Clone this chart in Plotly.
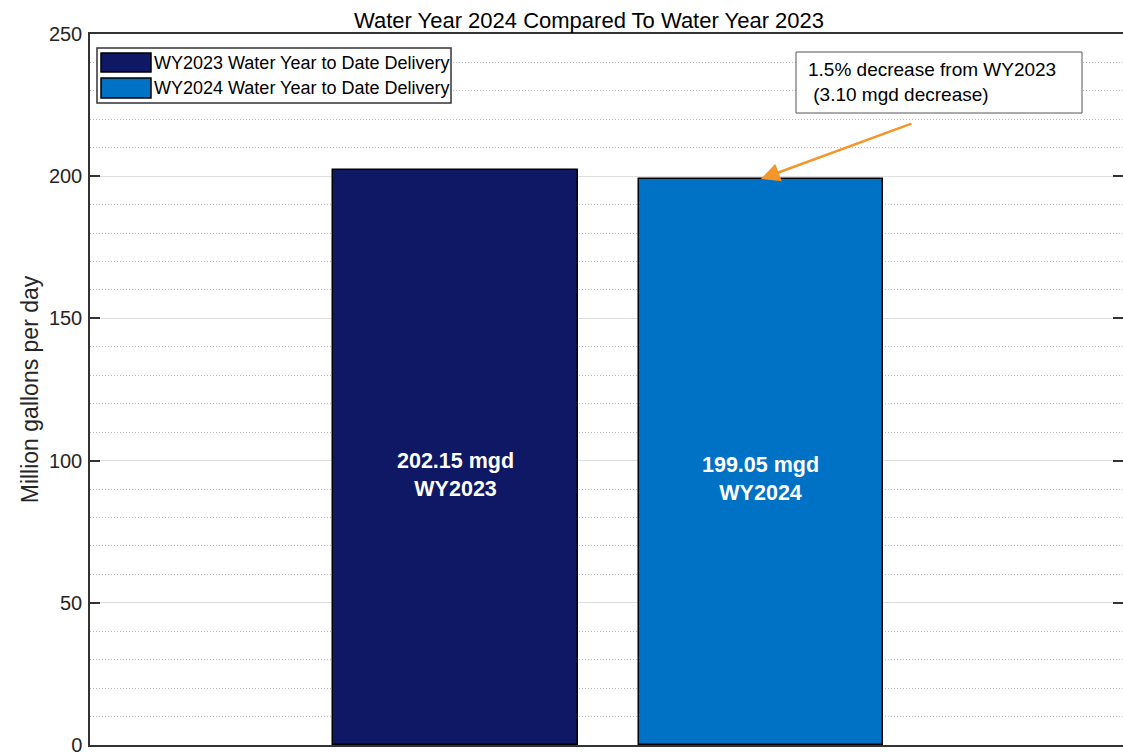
import plotly.graph_objects as go

# ---- data ----
categories = ["WY2023", "WY2024"]
legend_names = ["WY2023 Water Year to Date Delivery", "WY2024 Water Year to Date Delivery"]
values = [202.15, 199.05]
x_pos = [1, 2]
y_ticks = [0, 50, 100, 150, 200, 250]
title_text = "Water Year 2024 Compared To Water Year 2023"
y_title = "Million gallons per day"

colors = ["#0E1864", "#0072C6"]
FONT = "Liberation Sans, Arial, Helvetica, sans-serif"

W, H = 1123, 756
L, R, T, B = 90, 0, 34, 11
PW, PH = W - L - R, H - T - B


def px(xp):
    return (xp - L) / PW


def py(yp):
    return (H - B - yp) / PH


fig = go.Figure()
fig.add_trace(go.Bar(
    x=x_pos, y=values, width=0.8,
    marker=dict(color=colors, line=dict(color="black", width=1.5)),
    showlegend=False, hoverinfo="x+y",
))

annotations = []
shapes = []

# bar value labels
for xv, v, c in zip(x_pos, values, categories):
    annotations.append(dict(
        x=xv, y=v / 2, xref="x", yref="y", text=f"<b>{v:.2f} mgd<br>{c}</b>",
        showarrow=False, font=dict(family=FONT, size=21.5, color="white"),
        yshift=-17, xanchor="center", yanchor="middle",
    ))

# manual legend
shapes.append(dict(type="rect", xref="paper", yref="paper",
                   x0=px(97), x1=px(451), y0=py(103), y1=py(48),
                   fillcolor="white", line=dict(color="#333333", width=1.5), layer="above"))
sw_y = [(53, 72), (78, 98)]
txt_y = [63, 88]
for (y0, y1), ty, c, name in zip(sw_y, txt_y, colors, legend_names):
    shapes.append(dict(type="rect", xref="paper", yref="paper",
                       x0=px(101), x1=px(151), y0=py(y1), y1=py(y0),
                       fillcolor=c, line=dict(color="black", width=1.5), layer="above"))
    annotations.append(dict(x=px(152), y=py(ty), xref="paper", yref="paper", text=name,
                            showarrow=False, xanchor="left", yanchor="middle",
                            font=dict(family=FONT, size=18, color="black")))

# difference textbox
diff = values[0] - values[1]
pct = diff / values[0] * 100
shapes.append(dict(type="rect", xref="paper", yref="paper",
                   x0=px(796), x1=px(1082), y0=py(113), y1=py(52),
                   fillcolor="white", line=dict(color="#555555", width=1), layer="above"))
annotations.append(dict(
    x=px(806), y=py(82), xref="paper", yref="paper",
    text=f"{pct:.1f}% decrease from {categories[0]}<br> ({diff:.2f} mgd decrease)",
    showarrow=False, xanchor="left", yanchor="middle", align="left",
    font=dict(family=FONT, size=19, color="black")))

# arrow
annotations.append(dict(
    x=x_pos[1], y=values[1], xref="x", yref="y", ax=2.4975, ay=218.7, axref="x", ayref="y",
    text="", showarrow=True, arrowhead=2, arrowsize=1.5, arrowwidth=2.5,
    arrowcolor="#F5962A", standoff=0))

fig.update_layout(
    width=W, height=H,
    margin=dict(l=L, r=R, t=T, b=B, autoexpand=False),
    paper_bgcolor="white", plot_bgcolor="white",
    font=dict(family=FONT, color="#262626"),
    title=dict(text=title_text, x=px(589), xref="paper", xanchor="center",
               y=1 - 20 / H, yref="container", yanchor="middle",
               font=dict(family=FONT, size=22, color="black")),
    xaxis=dict(range=[-0.196, 3.185], showticklabels=False, ticks="", showgrid=False,
               zeroline=False, showline=True, linecolor="#333333", linewidth=1.5, mirror=True),
    yaxis=dict(range=[0, 250], tickvals=y_ticks, ticks="inside", ticklen=10, tickwidth=1.5,
               tickcolor="#333333", showline=True, linecolor="#333333", linewidth=1.5,
               mirror="ticks", zeroline=False, showgrid=True, gridcolor="#DEDEDE", gridwidth=1.2,
               minor=dict(dtick=10, showgrid=True, gridcolor="#BBBBBB", griddash="1px,2px",
                          gridwidth=1, ticks=""),
               tickfont=dict(family=FONT, size=20, color="#262626"),
               ticklabelstandoff=2,
               title=dict(text=y_title, font=dict(family=FONT, size=23, color="#262626"), standoff=4)),
    shapes=shapes, annotations=annotations,
    bargap=0,
)

fig.write_html("out.html")
